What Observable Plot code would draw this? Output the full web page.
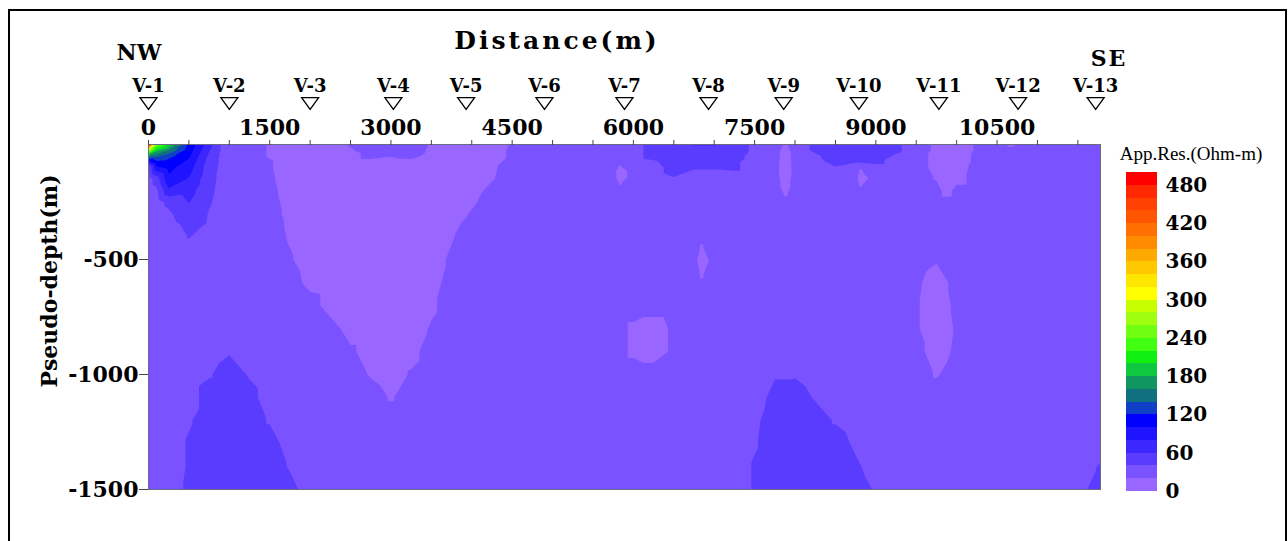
<!DOCTYPE html>
<html><head><meta charset="utf-8">
<script src="https://cdn.jsdelivr.net/npm/d3@7"></script>
<script src="https://cdn.jsdelivr.net/npm/@observablehq/plot@0.6"></script>
<style>
html,body{margin:0;padding:0;background:#fff;width:1288px;height:541px;overflow:hidden;}
#page{position:relative;width:1288px;height:541px;overflow:hidden;}
#border{position:absolute;left:8px;top:9px;width:1275px;height:600px;border:2px solid #000;border-bottom:none;}
.lbl{position:absolute;font-family:'DejaVu Serif',serif;font-weight:bold;color:#000;white-space:nowrap;line-height:1;transform:translate(-50%,-50%);}
#mainPlot{position:absolute;left:0;top:0;}
#legendPlot{position:absolute;left:1126px;top:162px;}
</style></head>
<body><div id="page"><div id="border"></div>
<div id="mainPlot"></div><div id="legendPlot"></div>
<div class="lbl" style="left:557px;top:40px;font-size:25px;letter-spacing:3px;">Distance(m)</div>
<div class="lbl" style="left:139px;top:52px;font-size:22px;">NW</div>
<div class="lbl" style="left:1109px;top:58px;font-size:22px;letter-spacing:2px;">SE</div>
<div class="lbl" style="left:49px;top:281px;font-size:22px;transform:translate(-50%,-50%) rotate(-90deg);">Pseudo-depth(m)</div>
<div class="lbl" style="left:1191px;top:153px;font-size:19px;font-family:'Liberation Serif',serif;font-weight:normal;">App.Res.(Ohm-m)</div>
</div>
<script>
// ---------- data ----------
const stationNames = ["V-1","V-2","V-3","V-4","V-5","V-6","V-7","V-8","V-9","V-10","V-11","V-12","V-13"];
const stationDist  = [0, 1000, 2000, 3030, 3930, 4900, 5890, 6930, 7860, 8790, 9780, 10760, 11720];

const xTickValues  = [0,500,1000,1500,2000,2500,3000,3500,4000,4500,5000,5500,6000,6500,7000,7500,8000,8500,9000,9500,10000,10500,11000,11500];
const xLabelValues = [0,1500,3000,4500,6000,7500,9000,10500];
const yTickValues  = [-500,-1000,-1500];
const legendTickValues = [0,60,120,180,240,300,360,420,480];

const contourLevels = [0,20,40,60,80,100,120,140,160,180,200,220,240,260,280,300,320,340,360,380,400,420,440,460,480];
const bandEdges = [0,20,40,60,80,100,120,140,160,180,200,220,240,260,280,300,320,340,360,380,400,420,440,460,480,500];
const bandColors = ["#9966ff","#7b52ff","#5a3cff","#3c28ff","#1e14ff","#0000ff","#1040c8","#107080","#109660","#10c840",
                    "#10f010","#40ff10","#70ff10","#a0ff10","#c8ff00","#ffff00","#ffe600","#ffc800","#ffaa00","#ff8c00",
                    "#ff7000","#ff5500","#ff4000","#ff2800","#ff0000"];

// apparent resistivity: distance columns x depth rows, one character per reading
const gridX = [0,250,500,750,1000,1250,1500,1750,2000,2250,2500,2750,3000,3250,3500,3750,4000,4250,4500,4750,
               5000,5250,5500,5750,6000,6250,6500,6750,7000,7250,7500,7750,8000,8250,8500,8750,9000,9250,9500,9750,
               10000,10250,10500,10750,11000,11250,11500,11780];
const gridDepth = [0,25,50,75,100,150,200,250,300,350,400,500,600,700,800,900,1000,1100,1200,1300,1400,1500];
const codeValue = {"0":10,"k":13,"l":16,"m":18,"a":22,"b":24,"e":27,"1":30,"f":33,"c":36,"g":38,"h":42,"d":44,"j":47,"2":50,"p":62,"3":70};
const gridRows = [
  "111111m000"+"a111m000a1"+"1111122pp2"+"c11d222d1l"+"0a111111",
  "111111m000"+"m111l000b1"+"1111122222"+"c11d222d1l"+"0a111111",
  "111111m000"+"01a10000b1"+"1111122222"+"111c222g1k"+"0b111111",
  "111111a000"+"0000000011"+"11111c222d"+"11112hj11k"+"0b111111",
  "111111a000"+"0000000l11"+"1111112hhd"+"1111g1111k"+"0e111111",
  "111111b000"+"0000000m11"+"111111g111"+"111111111m"+"01111111",
  "111111e000"+"0000000e11"+"1111111111"+"1111111111"+"11111111",
  "1111111000"+"000000l111"+"1111111111"+"1111111111"+"11111111",
  "1111111k00"+"000000a111"+"1111111111"+"1111111111"+"11111111",
  "1111111l00"+"00000k1111"+"1111111111"+"1111111111"+"11111111",
  "1111111m00"+"00000m1111"+"1111111111"+"1111111111"+"11111111",
  "1111111a00"+"00000b1111"+"1111111111"+"111111111a"+"11111111",
  "11111111k0"+"0000011111"+"1111111111"+"11111111b0"+"e1111111",
  "1111111110"+"0000l11111"+"1111111111"+"11111111a0"+"b1111111",
  "1111111111"+"0000a11111"+"1111l0b111"+"11111111a0"+"a1111111",
  "1111g11111"+"b00k111111"+"1111l0b111"+"11111111e0"+"b1111111",
  "111g2g1111"+"1m0a111111"+"1111111111"+"1gg111111m"+"11111111",
  "11122j1111"+"11m1111111"+"1111111111"+"1j2g111111"+"11111111",
  "11g222g111"+"1111111111"+"1111111111"+"c222g11111"+"11111111",
  "11h2222111"+"1111111111"+"1111111111"+"g2222c1111"+"11111111",
  "11h2222g11"+"1111111111"+"1111111111"+"h2222d1111"+"1111111h",
  "11d2222j11"+"1111111111"+"1111111111"+"h22222g111"+"111111f2"
];

// small low-resistivity spots between the grid columns
const spotX     = [5830, 5830, 5830, 6840, 6840, 6840, 7885, 7885, 7885, 7885, 7885, 8800, 8800, 8800, 9880, 10700];
const spotDepth = [ 100,  135,  170,  440,  510,  580,    0,   40,  110,  170,  220,  110,  145,  180,  205,     0];
const spotValue = [  18,    8,   18,   18,    6,   18,   16,    8,    4,   10,   18,   18,    8,   18,   10,    14];

// high-resistivity anomaly near V-1 (Ohm-m)
const anomX = [0, 100, 250, 500, 750, 1000];
const anomDepth = [0, 25, 50, 75, 100, 150, 200, 250, 300, 350, 400];
const anomRows = [
  [480, 250, 200, 115, 69, 22],
  [280, 190, 160, 110, 62, 24],
  [160, 145, 128, 103, 56, 26],
  [ 90, 115, 112,  96, 52, 28],
  [ 38,  96, 106,  89, 49, 29],
  [ 30,  50,  96,  78, 46, 30],
  [ 30,  36,  76,  68, 44, 30],
  [ 30,  32,  45,  61, 42, 30],
  [ 30,  30,  37,  53, 39, 30],
  [ 30,  30,  33,  45, 38, 30],
  [ 30,  30,  30,  41, 33, 30]
];

// ---------- build tables ----------
const points = [];
gridRows.forEach((row, r) => {
  const depth = gridDepth[r];
  [...row].forEach((ch, c) => {
    const x = gridX[c];
    if (x <= 1000 && depth <= 400) return;
    points.push({x, y: -depth, value: codeValue[ch]});
  });
});
anomRows.forEach((vals, r) => vals.forEach((v, c) => points.push({x: anomX[c], y: -anomDepth[r], value: v})));
spotX.forEach((x, i) => points.push({x, y: -spotDepth[i], value: spotValue[i]}));

const stations = stationNames.map((name, i) => ({name, dist: stationDist[i]}));
const bands = bandEdges.slice(0, -1).map((lo, i) => ({lo, hi: bandEdges[i + 1]}));

const colorScale = {type: "threshold", domain: contourLevels.slice(1), range: bandColors};

const downTriangle = {
  draw(ctx, size) {
    const r = Math.sqrt(size / Math.PI), h = r * 0.68;
    ctx.moveTo(-r, -h); ctx.lineTo(r, -h); ctx.lineTo(0, h); ctx.closePath();
  }
};

const fontStyle = {fontFamily: "'DejaVu Serif', serif", fontWeight: "bold", color: "#000", background: "transparent", overflow: "visible"};

const main = Plot.plot({
  width: 1288, height: 541,
  marginLeft: 148, marginRight: 188, marginTop: 144, marginBottom: 52,
  style: fontStyle,
  x: {domain: [0, 11780]},
  y: {domain: [-1500, 0]},
  color: colorScale,
  marks: [
    Plot.contour(points, {x: "x", y: "y", fill: "value", interpolate: "barycentric", thresholds: contourLevels, pixelSize: 1}),
    Plot.frame({stroke: "#6a6a80", strokeWidth: 1}),
    Plot.axisX({anchor: "top", ticks: xTickValues, tickSize: 5, tickFormat: () => "", label: null, stroke: "#444"}),
    Plot.axisX({anchor: "top", ticks: xLabelValues, tickSize: 0, tickPadding: 10, tickFormat: d => String(d), fontSize: 22, label: null}),
    Plot.axisY({ticks: yTickValues, tickSize: 9, tickPadding: 1, tickFormat: d => String(d), fontSize: 22, label: null, stroke: "#444"}),
    Plot.dot(stations, {x: "dist", frameAnchor: "top", dy: -41, symbol: downTriangle, r: 8.5, stroke: "#000", fill: "#fff", strokeWidth: 1.3}),
    Plot.text(stations, {x: "dist", text: "name", frameAnchor: "top", dy: -65, fontSize: 18, fontWeight: "bold"})
  ]
});
document.getElementById("mainPlot").appendChild(main);

const legend = Plot.plot({
  width: 110, height: 345,
  marginTop: 10, marginBottom: 16, marginLeft: 0, marginRight: 79,
  style: fontStyle,
  x: {domain: [0, 1], axis: null},
  y: {domain: [0, 500], axis: null},
  color: colorScale,
  marks: [
    Plot.rect(bands, {x1: 0, x2: 1, y1: "lo", y2: "hi", fill: "lo", shapeRendering: "crispEdges"}),
    Plot.axisY({anchor: "right", ticks: legendTickValues, tickSize: 0, tickPadding: 8, tickFormat: d => String(d), fontSize: 20, label: null})
  ]
});
document.getElementById("legendPlot").appendChild(legend);
</script>
</body></html>
